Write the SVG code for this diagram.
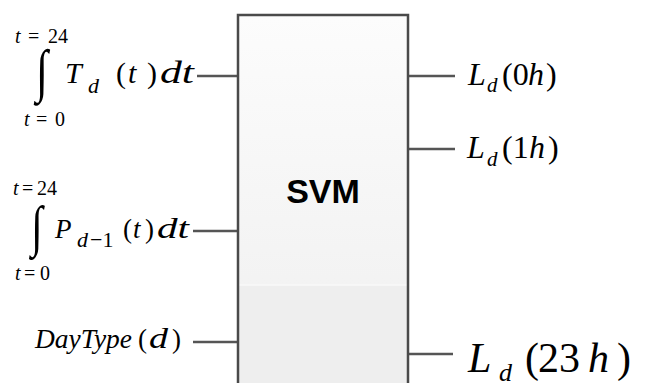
<svg xmlns="http://www.w3.org/2000/svg" width="659" height="383" viewBox="0 0 659 383">
<defs>
<linearGradient id="boxg" x1="0" y1="0" x2="0" y2="1">
<stop offset="0" stop-color="#fcfcfc"/>
<stop offset="1" stop-color="#efefef"/>
</linearGradient>
</defs>
<rect width="659" height="383" fill="#fff"/>
<g id="in1">
<text font-family="Liberation Serif, serif" font-style="italic" x="15" y="43" font-size="20">t</text>
<text font-family="Liberation Serif, serif" x="28" y="43" font-size="20">=</text>
<text font-family="Liberation Serif, serif" x="48" y="43" font-size="20">24</text>
<text font-family="Liberation Serif, serif" font-size="58" transform="translate(36,90) scale(0.75,1)">∫</text>
<text font-family="Liberation Serif, serif" font-style="italic" x="65" y="83" font-size="30">T</text>
<text font-family="Liberation Serif, serif" font-style="italic" x="88" y="93" font-size="22">d</text>
<text font-family="Liberation Serif, serif" x="116" y="83" font-size="30">(</text>
<text font-family="Liberation Serif, serif" font-style="italic" x="128" y="83" font-size="30">t</text>
<text font-family="Liberation Serif, serif" x="147" y="83" font-size="30">)</text>
<text font-family="Liberation Serif, serif" font-style="italic" x="160" y="83" font-size="32" textLength="34" lengthAdjust="spacingAndGlyphs">dt</text>
<text font-family="Liberation Serif, serif" font-style="italic" x="24" y="126" font-size="20">t</text>
<text font-family="Liberation Serif, serif" x="36" y="126" font-size="20">=</text>
<text font-family="Liberation Serif, serif" x="55" y="126" font-size="20">0</text>
</g>
<g id="in2">
<text font-family="Liberation Serif, serif" font-style="italic" x="13" y="195" font-size="20">t</text>
<text font-family="Liberation Serif, serif" x="22" y="195" font-size="20">=</text>
<text font-family="Liberation Serif, serif" x="37" y="195" font-size="20">24</text>
<text font-family="Liberation Serif, serif" font-size="56" transform="translate(31,245) scale(0.75,1)">∫</text>
<text font-family="Liberation Serif, serif" font-style="italic" x="55" y="238" font-size="27">P</text>
<text font-family="Liberation Serif, serif" font-style="italic" x="77" y="247" font-size="22">d</text>
<text font-family="Liberation Serif, serif" x="90" y="247" font-size="22">−1</text>
<text font-family="Liberation Serif, serif" x="123" y="238" font-size="27">(</text>
<text font-family="Liberation Serif, serif" font-style="italic" x="133" y="238" font-size="27">t</text>
<text font-family="Liberation Serif, serif" x="145" y="238" font-size="27">)</text>
<text font-family="Liberation Serif, serif" font-style="italic" x="157" y="238" font-size="29" textLength="32" lengthAdjust="spacingAndGlyphs">dt</text>
<text font-family="Liberation Serif, serif" font-style="italic" x="15" y="280" font-size="20">t</text>
<text font-family="Liberation Serif, serif" x="24" y="280" font-size="20">=</text>
<text font-family="Liberation Serif, serif" x="40" y="280" font-size="20">0</text>
</g>
<g id="in3">
<text font-family="Liberation Serif, serif" font-style="italic" x="35" y="348" font-size="27" textLength="97" lengthAdjust="spacingAndGlyphs">DayType</text>
<text font-family="Liberation Serif, serif" x="138" y="348" font-size="27">(</text>
<text font-family="Liberation Serif, serif" font-style="italic" x="149" y="348" font-size="29" textLength="19" lengthAdjust="spacingAndGlyphs">d</text>
<text font-family="Liberation Serif, serif" x="172" y="348" font-size="27">)</text>
</g>
<g id="out0">
<text font-family="Liberation Serif, serif" font-style="italic" x="468" y="85" font-size="32">L</text>
<text font-family="Liberation Serif, serif" font-style="italic" x="487" y="92" font-size="21">d</text>
<text font-family="Liberation Serif, serif" x="502" y="85" font-size="32">(0</text>
<text font-family="Liberation Serif, serif" font-style="italic" x="528" y="85" font-size="32">h</text>
<text font-family="Liberation Serif, serif" x="546" y="85" font-size="32">)</text>
</g>
<g id="out1">
<text font-family="Liberation Serif, serif" font-style="italic" x="467" y="158" font-size="32">L</text>
<text font-family="Liberation Serif, serif" font-style="italic" x="487" y="166" font-size="21">d</text>
<text font-family="Liberation Serif, serif" x="502" y="158" font-size="32">(1</text>
<text font-family="Liberation Serif, serif" font-style="italic" x="529" y="158" font-size="32">h</text>
<text font-family="Liberation Serif, serif" x="548" y="158" font-size="32">)</text>
</g>
<g id="out23">
<text font-family="Liberation Serif, serif" font-style="italic" x="468" y="372" font-size="42">L</text>
<text font-family="Liberation Serif, serif" font-style="italic" x="499" y="381" font-size="26">d</text>
<text font-family="Liberation Serif, serif" x="525" y="372" font-size="42">(</text>
<text font-family="Liberation Serif, serif" x="538" y="372" font-size="42">23</text>
<text font-family="Liberation Serif, serif" font-style="italic" x="588" y="372" font-size="42">h</text>
<text font-family="Liberation Serif, serif" x="617" y="372" font-size="42">)</text>
</g>
<g id="connectors" stroke="#555" stroke-width="2.5">
<line x1="197" y1="76" x2="238" y2="76"/>
<line x1="193" y1="231" x2="238" y2="231"/>
<line x1="193" y1="342" x2="238" y2="342"/>
<line x1="408" y1="76" x2="455" y2="76"/>
<line x1="408" y1="149" x2="455" y2="149"/>
<line x1="408" y1="354" x2="453" y2="354"/>
</g>
<g id="svm">
<rect x="238" y="15" width="170" height="380" fill="url(#boxg)"/>
<rect x="239" y="285" width="168" height="98" fill="#eeeeee"/>
<line x1="239" y1="285" x2="407" y2="285" stroke="#f8f8f8" stroke-width="1.5"/>
<path d="M238,383 V15 H408 V383" stroke="#4a4a4a" stroke-width="2.5" fill="none"/>
<text x="323" y="203" text-anchor="middle" font-family="Liberation Sans, sans-serif" font-weight="bold" font-size="34" fill="#000">SVM</text>
</g>
</svg>
